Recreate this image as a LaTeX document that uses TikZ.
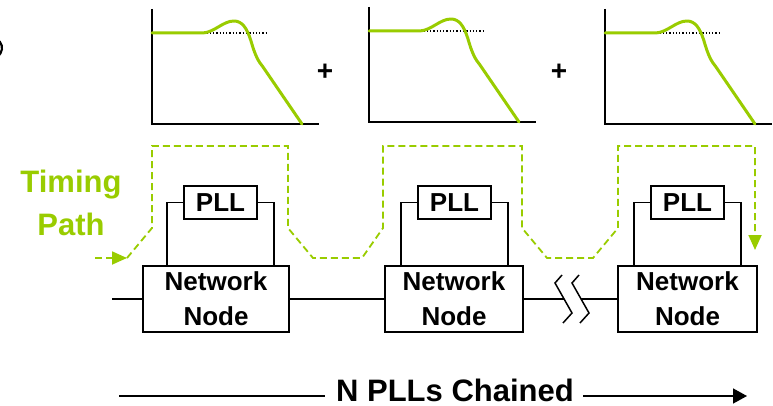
\documentclass[tikz,border=0pt]{standalone}
\usepackage{fontspec}
\setmainfont{Liberation Sans}
\usetikzlibrary{arrows.meta,calc}
\definecolor{lgreen}{RGB}{153,204,0}
\begin{document}
\begin{tikzpicture}[x=1pt,y=-1pt,
  netbox/.style={draw, line width=1.6pt, minimum height=66pt, inner sep=0pt,
    font=\fontsize{26}{35}\selectfont\bfseries, align=center},
  pllbox/.style={draw, line width=1.6pt, minimum width=73pt, minimum height=33pt,
    inner sep=0pt, font=\fontsize{26}{30}\selectfont\bfseries},
  wire/.style={line width=1.5pt},
  axisline/.style={line width=2pt, line join=miter},
  resp/.style={lgreen, line width=3pt, line cap=round, line join=round},
  tpath/.style={lgreen, line width=1.8pt, dash pattern=on 7pt off 4pt},
  plus/.style={font=\fontsize{28}{30}\selectfont\bfseries, inner sep=0pt}]
\useasboundingbox (0,0) rectangle (773,406);

% cropped fragment at left edge
\draw[line width=2.2pt] (-8,48) ++(-60:10) arc[start angle=-60, end angle=60, radius=10];

% frequency response graphs
\foreach \ox/\oy in {152/124, 369/122, 605/124}{
  \begin{scope}[shift={(\ox,\oy)}]
    \draw[axisline] (0,-115) -- (0,0) -- (167,0);
    \draw[line width=1.3pt, dotted] (51,-91) -- (114,-91);
    \draw[resp] (0,-91) -- (51,-91)
      .. controls (63,-92) and (71,-103) .. (82,-103)
      .. controls (90,-103) and (95,-96) .. (99,-83)
      .. controls (103,-69) and (106,-63) .. (111,-57) -- (150,0);
  \end{scope}
}
\node[plus] (plusA) at (325,72) {+};
\node[plus] (plusB) at (559,72) {+};

% network nodes and PLLs
\node[netbox, minimum width=146pt] (n1) at (216,299) {Network\\Node};
\node[netbox, minimum width=138pt] (n2) at (454,299) {Network\\Node};
\node[netbox, minimum width=139pt] (n3) at (687.5,299) {Network\\Node};
\node[pllbox] (p1) at (220.5,202.5) {PLL};
\node[pllbox] (p2) at (454.5,202.5) {PLL};
\node[pllbox] (p3) at (687.5,202.5) {PLL};
\foreach \i in {1,2,3}{
  \draw[wire] (p\i.west) -| ([xshift=-16pt]p\i.west |- n\i.north);
  \draw[wire] (p\i.east) -| ([xshift=16pt]p\i.east |- n\i.north);
}

% main line with break
\coordinate (lstart) at (112,299);
\coordinate (brkA) at (564,299);
\coordinate (brkB) at (581,299);
\draw[wire] (lstart) -- (n1.west);
\draw[wire] (n1.east) -- (n2.west);
\draw[wire] (n2.east) -- (brkA);
\draw[wire] (brkB) -- (n3.west);
\draw[wire] (562,275) -- (555,283) -- (572,313) -- (563,323);
\draw[wire] (579,275) -- (572,283) -- (589,313) -- (580,323);

% timing path
\node[lgreen, font=\fontsize{31}{43}\selectfont\bfseries, align=center] (tp) at (71,203) {Timing\\Path};
\coordinate (tstart) at (95,258);
\coordinate (tin) at (127,258);
\coordinate (tend) at (755,250);
\draw[tpath, -{Triangle[length=15pt, width=13pt]}] (tstart) -- (tin);
\draw[tpath, -{Triangle[length=15pt, width=13pt]}] (tin) -- (152,228) -- (152,146) -- (288,146)
  -- (288,228) -- (313,258) -- (362,258) -- (383,228) -- (383,146) -- (522,146)
  -- (522,228) -- (547,258) -- (593,258) -- (618,228) -- (618,146) -- (755,146) -- (tend);

% bottom label
\node[font=\fontsize{31}{34}\selectfont\bfseries, inner sep=0pt] (chain) at (455,390) {N PLLs Chained};
\coordinate (bl) at (119,396);
\coordinate (br) at (747,396);
\draw[wire] (bl) -- ([xshift=-11pt]chain.west |- bl);
\draw[wire, -{Triangle[length=14pt, width=15pt]}] ([xshift=9pt]chain.east |- br) -- (br);
\end{tikzpicture}
\end{document}
